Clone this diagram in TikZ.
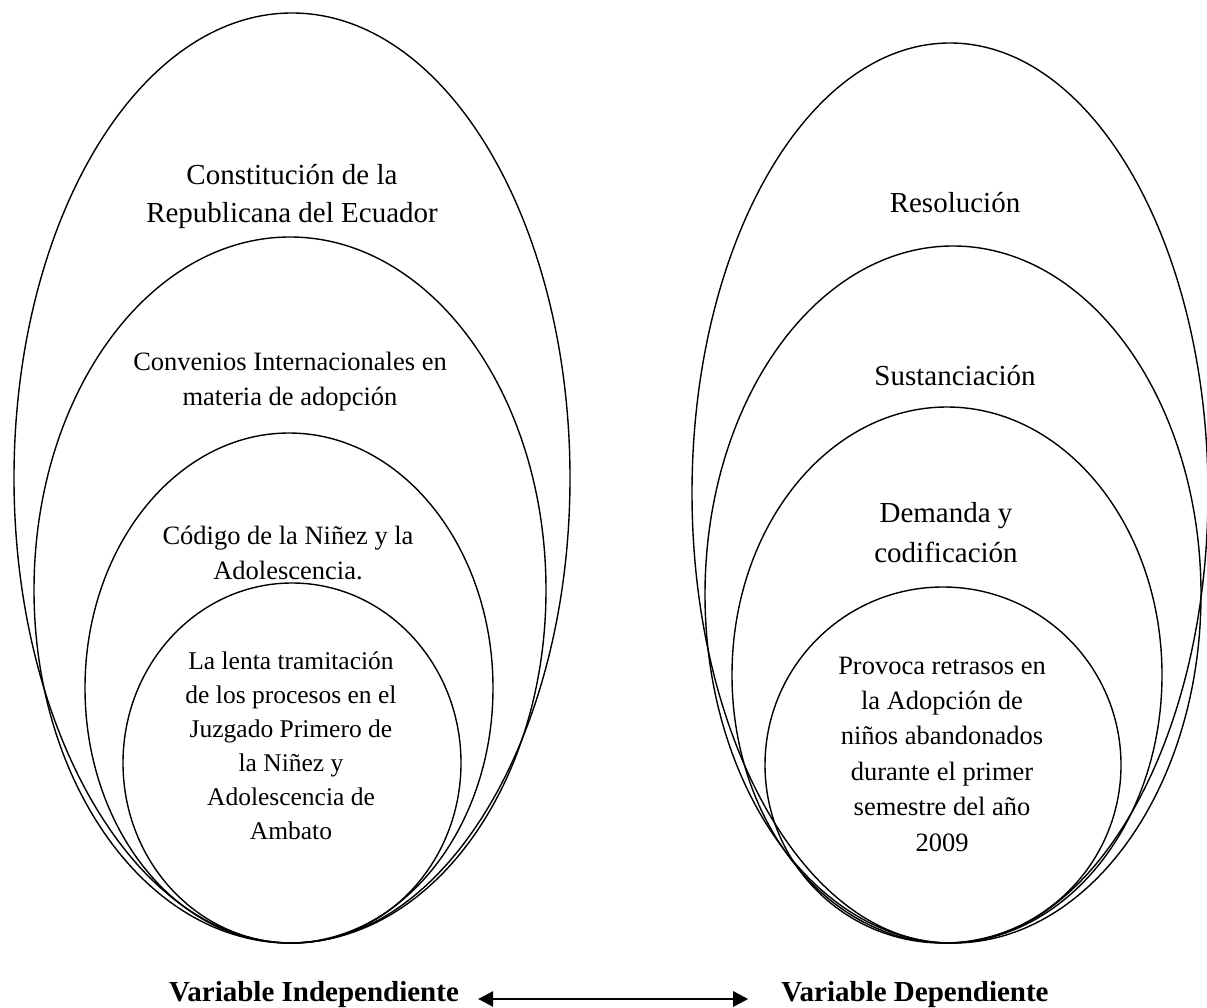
\documentclass[tikz,border=0pt]{standalone}
\usepackage{fontspec}
\setmainfont{Liberation Serif}
\usetikzlibrary{shapes.geometric,arrows.meta}
\begin{document}
\begin{tikzpicture}[x=1pt,y=-1pt,
  ell/.style={draw, ellipse, line width=1.4pt, inner sep=0pt, outer sep=0pt},
  lbl/.style={align=center, inner sep=0pt},
  bigtxt/.style={lbl, font=\fontsize{29}{38}\selectfont},
  midtxt/.style={lbl, font=\fontsize{26.5}{35}\selectfont},
  bold/.style={lbl, anchor=base, font=\fontsize{29}{38}\selectfont\bfseries},
  arr/.style={{Triangle[length=15pt,width=15pt]}-{Triangle[length=15pt,width=15pt]}, line width=2.6pt}
]
\useasboundingbox (0,0) rectangle (1207,1008);
% left group
\node[ell, minimum width=556pt, minimum height=930pt] (L1) at (292,478) {};
\node[ell, minimum width=512pt, minimum height=706pt] (L2) at (290,590) {};
\node[ell, minimum width=408pt, minimum height=510pt] (L3) at (289,688) {};
\node[ell, minimum width=338pt, minimum height=360pt] (L4) at (292,763) {};
% right group
\node[ell, minimum width=516pt, minimum height=900pt] (R1) at (950,493) {};
\node[ell, minimum width=496pt, minimum height=697pt] (R2) at (953,594.5) {};
\node[ell, minimum width=430pt, minimum height=536pt] (R3) at (947,675) {};
\node[ell, minimum width=356pt, minimum height=356pt] (R4) at (943,765) {};
% left labels
\node[bigtxt] (ta) at (292,197) {Constitución de la\\Republicana del Ecuador};
\node[midtxt] (tb) at (290,382) {Convenios Internacionales en\\materia de adopción};
\node[midtxt] (tc) at (288,553) {Código de la Niñez y la\\Adolescencia.};
\node[lbl, font=\fontsize{25.5}{34}\selectfont] (td) at (291,746) {La lenta tramitación\\de los procesos en el\\Juzgado Primero de\\la Niñez y\\Adolescencia de\\Ambato};
% right labels
\node[bigtxt] (ua) at (955,203) {Resolución};
\node[bigtxt] (ub) at (955,376) {Sustanciación};
\node[lbl, font=\fontsize{29}{40}\selectfont] (uc) at (946,533) {Demanda y\\codificación};
\node[lbl, font=\fontsize{26.5}{35.4}\selectfont] (ud) at (942,754) {Provoca retrasos en\\la Adopción de\\niños abandonados\\durante el primer\\semestre del año\\2009};
% bottom
\node[bold] (vi) at (314,1001) {Variable Independiente};
\node[bold] (vd) at (915,1001) {Variable Dependiente};
\draw[arr] ([xshift=19pt,yshift=2pt]vi.base east) -- ([xshift=-33pt,yshift=2pt]vd.base west);
\end{tikzpicture}
\end{document}
